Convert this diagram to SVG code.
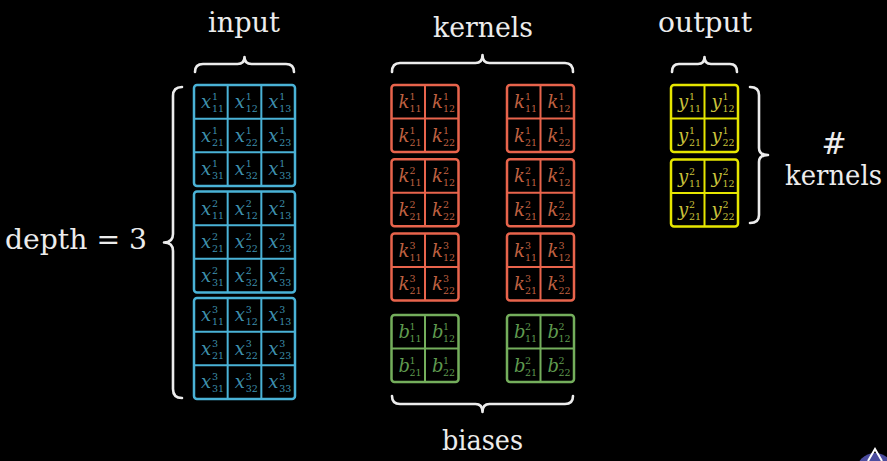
<svg xmlns="http://www.w3.org/2000/svg" width="887" height="461" viewBox="0 0 887 461">
<style>
text{font-family:"DejaVu Serif","Liberation Serif",serif}
.lbl{fill:#ececec;font-size:27px}
.cell text{font-size:9.5px}
.m{font-style:italic;font-size:18px}
.brace{fill:none;stroke:#ececec;stroke-width:2.6;stroke-linecap:round;stroke-linejoin:round}
.blue{color:#4AB2D6}.blue text{fill:#3E90AE}
.red{color:#E8644C}.red text{fill:#BF6040}
.green{color:#74AE5C}.green text{fill:#5F9A4F}
.yellow{color:#E6E600}.yellow text{fill:#C9C23A}
</style>
<defs>
<g id="g3"><rect x="0" y="0" width="101" height="101" rx="3" fill="none" stroke="currentColor" stroke-width="2.5"/><path d="M33.67 0V101M67.33 0V101M0 33.67H101M0 67.33H101" fill="none" stroke="currentColor" stroke-width="2"/></g>
<g id="g2"><rect x="0" y="0" width="67" height="67" rx="3" fill="none" stroke="currentColor" stroke-width="2.5"/><path d="M33.5 0V67M0 33.5H67" fill="none" stroke="currentColor" stroke-width="2"/></g>
</defs>
<rect width="887" height="461" fill="#000"/>

<g id="labels">
<text class="lbl" x="244" y="32" text-anchor="middle" textLength="72" lengthAdjust="spacingAndGlyphs">input</text>
<text class="lbl" x="483" y="37" text-anchor="middle" textLength="100" lengthAdjust="spacingAndGlyphs">kernels</text>
<text class="lbl" x="705" y="32" text-anchor="middle" textLength="94" lengthAdjust="spacingAndGlyphs">output</text>
<text class="lbl" x="482.5" y="450" text-anchor="middle" textLength="81" lengthAdjust="spacingAndGlyphs">biases</text>
<text class="lbl" x="5" y="249" textLength="142" lengthAdjust="spacingAndGlyphs">depth = 3</text>
<text class="lbl" x="834" y="154" text-anchor="middle" style="font-size:30px">#</text>
<text class="lbl" x="833.5" y="185" text-anchor="middle" textLength="97" lengthAdjust="spacingAndGlyphs">kernels</text>
</g>

<g id="connectors">
<path class="brace" d="M195 72Q195 64 203 64L237.5 64Q244.5 64 244.5 57Q244.5 64 251.5 64L286 64Q294 64 294 72"/>
<path class="brace" d="M392 72Q392 63 400 63L475.5 63Q482.5 63 482.5 55Q482.5 63 489.5 63L565 63Q573 63 573 72"/>
<path class="brace" d="M672 72Q672 64 679 64L698 64Q704.5 64 704.5 57Q704.5 64 711 64L730 64Q737 64 737 72"/>
<path class="brace" d="M392 396Q392 404 400 404L475.5 404Q482.5 404 482.5 412Q482.5 404 489.5 404L565 404Q573 404 573 396"/>
<path class="brace" d="M182 87Q173 87 173 96L173 234Q173 242.5 164 242.5Q173 242.5 173 251L173 389Q173 398 182 398"/>
<path class="brace" d="M750 87Q759 87 759 95L759 148Q759 155 768 155Q759 155 759 162L759 215Q759 223 750 223"/>
</g>

<g id="input-1" class="cell blue" transform="translate(194,85)">
<use href="#g3"/>
<text><tspan class="m" x="7" y="23">x</tspan><tspan x="18" y="15">1</tspan><tspan x="18" y="27">11</tspan></text>
<text><tspan class="m" x="40.7" y="23">x</tspan><tspan x="51.7" y="15">1</tspan><tspan x="51.7" y="27">12</tspan></text>
<text><tspan class="m" x="74.3" y="23">x</tspan><tspan x="85.3" y="15">1</tspan><tspan x="85.3" y="27">13</tspan></text>
<text><tspan class="m" x="7" y="56.7">x</tspan><tspan x="18" y="48.7">1</tspan><tspan x="18" y="60.7">21</tspan></text>
<text><tspan class="m" x="40.7" y="56.7">x</tspan><tspan x="51.7" y="48.7">1</tspan><tspan x="51.7" y="60.7">22</tspan></text>
<text><tspan class="m" x="74.3" y="56.7">x</tspan><tspan x="85.3" y="48.7">1</tspan><tspan x="85.3" y="60.7">23</tspan></text>
<text><tspan class="m" x="7" y="90.3">x</tspan><tspan x="18" y="82.3">1</tspan><tspan x="18" y="94.3">31</tspan></text>
<text><tspan class="m" x="40.7" y="90.3">x</tspan><tspan x="51.7" y="82.3">1</tspan><tspan x="51.7" y="94.3">32</tspan></text>
<text><tspan class="m" x="74.3" y="90.3">x</tspan><tspan x="85.3" y="82.3">1</tspan><tspan x="85.3" y="94.3">33</tspan></text>
</g>
<g id="input-2" class="cell blue" transform="translate(194,191.5)">
<use href="#g3"/>
<text><tspan class="m" x="7" y="23">x</tspan><tspan x="18" y="15">2</tspan><tspan x="18" y="27">11</tspan></text>
<text><tspan class="m" x="40.7" y="23">x</tspan><tspan x="51.7" y="15">2</tspan><tspan x="51.7" y="27">12</tspan></text>
<text><tspan class="m" x="74.3" y="23">x</tspan><tspan x="85.3" y="15">2</tspan><tspan x="85.3" y="27">13</tspan></text>
<text><tspan class="m" x="7" y="56.7">x</tspan><tspan x="18" y="48.7">2</tspan><tspan x="18" y="60.7">21</tspan></text>
<text><tspan class="m" x="40.7" y="56.7">x</tspan><tspan x="51.7" y="48.7">2</tspan><tspan x="51.7" y="60.7">22</tspan></text>
<text><tspan class="m" x="74.3" y="56.7">x</tspan><tspan x="85.3" y="48.7">2</tspan><tspan x="85.3" y="60.7">23</tspan></text>
<text><tspan class="m" x="7" y="90.3">x</tspan><tspan x="18" y="82.3">2</tspan><tspan x="18" y="94.3">31</tspan></text>
<text><tspan class="m" x="40.7" y="90.3">x</tspan><tspan x="51.7" y="82.3">2</tspan><tspan x="51.7" y="94.3">32</tspan></text>
<text><tspan class="m" x="74.3" y="90.3">x</tspan><tspan x="85.3" y="82.3">2</tspan><tspan x="85.3" y="94.3">33</tspan></text>
</g>
<g id="input-3" class="cell blue" transform="translate(194,298)">
<use href="#g3"/>
<text><tspan class="m" x="7" y="23">x</tspan><tspan x="18" y="15">3</tspan><tspan x="18" y="27">11</tspan></text>
<text><tspan class="m" x="40.7" y="23">x</tspan><tspan x="51.7" y="15">3</tspan><tspan x="51.7" y="27">12</tspan></text>
<text><tspan class="m" x="74.3" y="23">x</tspan><tspan x="85.3" y="15">3</tspan><tspan x="85.3" y="27">13</tspan></text>
<text><tspan class="m" x="7" y="56.7">x</tspan><tspan x="18" y="48.7">3</tspan><tspan x="18" y="60.7">21</tspan></text>
<text><tspan class="m" x="40.7" y="56.7">x</tspan><tspan x="51.7" y="48.7">3</tspan><tspan x="51.7" y="60.7">22</tspan></text>
<text><tspan class="m" x="74.3" y="56.7">x</tspan><tspan x="85.3" y="48.7">3</tspan><tspan x="85.3" y="60.7">23</tspan></text>
<text><tspan class="m" x="7" y="90.3">x</tspan><tspan x="18" y="82.3">3</tspan><tspan x="18" y="94.3">31</tspan></text>
<text><tspan class="m" x="40.7" y="90.3">x</tspan><tspan x="51.7" y="82.3">3</tspan><tspan x="51.7" y="94.3">32</tspan></text>
<text><tspan class="m" x="74.3" y="90.3">x</tspan><tspan x="85.3" y="82.3">3</tspan><tspan x="85.3" y="94.3">33</tspan></text>
</g>

<g id="kernel-1-1" class="cell red" transform="translate(391.5,85)">
<use href="#g2"/>
<text><tspan class="m" x="7" y="23">k</tspan><tspan x="18" y="15">1</tspan><tspan x="18" y="27">11</tspan></text>
<text><tspan class="m" x="40.5" y="23">k</tspan><tspan x="51.5" y="15">1</tspan><tspan x="51.5" y="27">12</tspan></text>
<text><tspan class="m" x="7" y="56.5">k</tspan><tspan x="18" y="48.5">1</tspan><tspan x="18" y="60.5">21</tspan></text>
<text><tspan class="m" x="40.5" y="56.5">k</tspan><tspan x="51.5" y="48.5">1</tspan><tspan x="51.5" y="60.5">22</tspan></text>
</g>
<g id="kernel-1-2" class="cell red" transform="translate(391.5,159.3)">
<use href="#g2"/>
<text><tspan class="m" x="7" y="23">k</tspan><tspan x="18" y="15">2</tspan><tspan x="18" y="27">11</tspan></text>
<text><tspan class="m" x="40.5" y="23">k</tspan><tspan x="51.5" y="15">2</tspan><tspan x="51.5" y="27">12</tspan></text>
<text><tspan class="m" x="7" y="56.5">k</tspan><tspan x="18" y="48.5">2</tspan><tspan x="18" y="60.5">21</tspan></text>
<text><tspan class="m" x="40.5" y="56.5">k</tspan><tspan x="51.5" y="48.5">2</tspan><tspan x="51.5" y="60.5">22</tspan></text>
</g>
<g id="kernel-1-3" class="cell red" transform="translate(391.5,233.6)">
<use href="#g2"/>
<text><tspan class="m" x="7" y="23">k</tspan><tspan x="18" y="15">3</tspan><tspan x="18" y="27">11</tspan></text>
<text><tspan class="m" x="40.5" y="23">k</tspan><tspan x="51.5" y="15">3</tspan><tspan x="51.5" y="27">12</tspan></text>
<text><tspan class="m" x="7" y="56.5">k</tspan><tspan x="18" y="48.5">3</tspan><tspan x="18" y="60.5">21</tspan></text>
<text><tspan class="m" x="40.5" y="56.5">k</tspan><tspan x="51.5" y="48.5">3</tspan><tspan x="51.5" y="60.5">22</tspan></text>
</g>
<g id="kernel-2-1" class="cell red" transform="translate(507,85)">
<use href="#g2"/>
<text><tspan class="m" x="7" y="23">k</tspan><tspan x="18" y="15">1</tspan><tspan x="18" y="27">11</tspan></text>
<text><tspan class="m" x="40.5" y="23">k</tspan><tspan x="51.5" y="15">1</tspan><tspan x="51.5" y="27">12</tspan></text>
<text><tspan class="m" x="7" y="56.5">k</tspan><tspan x="18" y="48.5">1</tspan><tspan x="18" y="60.5">21</tspan></text>
<text><tspan class="m" x="40.5" y="56.5">k</tspan><tspan x="51.5" y="48.5">1</tspan><tspan x="51.5" y="60.5">22</tspan></text>
</g>
<g id="kernel-2-2" class="cell red" transform="translate(507,159.3)">
<use href="#g2"/>
<text><tspan class="m" x="7" y="23">k</tspan><tspan x="18" y="15">2</tspan><tspan x="18" y="27">11</tspan></text>
<text><tspan class="m" x="40.5" y="23">k</tspan><tspan x="51.5" y="15">2</tspan><tspan x="51.5" y="27">12</tspan></text>
<text><tspan class="m" x="7" y="56.5">k</tspan><tspan x="18" y="48.5">2</tspan><tspan x="18" y="60.5">21</tspan></text>
<text><tspan class="m" x="40.5" y="56.5">k</tspan><tspan x="51.5" y="48.5">2</tspan><tspan x="51.5" y="60.5">22</tspan></text>
</g>
<g id="kernel-2-3" class="cell red" transform="translate(507,233.6)">
<use href="#g2"/>
<text><tspan class="m" x="7" y="23">k</tspan><tspan x="18" y="15">3</tspan><tspan x="18" y="27">11</tspan></text>
<text><tspan class="m" x="40.5" y="23">k</tspan><tspan x="51.5" y="15">3</tspan><tspan x="51.5" y="27">12</tspan></text>
<text><tspan class="m" x="7" y="56.5">k</tspan><tspan x="18" y="48.5">3</tspan><tspan x="18" y="60.5">21</tspan></text>
<text><tspan class="m" x="40.5" y="56.5">k</tspan><tspan x="51.5" y="48.5">3</tspan><tspan x="51.5" y="60.5">22</tspan></text>
</g>

<g id="bias-1" class="cell green" transform="translate(391.5,315)">
<use href="#g2"/>
<text><tspan class="m" x="7" y="23">b</tspan><tspan x="18" y="15">1</tspan><tspan x="18" y="27">11</tspan></text>
<text><tspan class="m" x="40.5" y="23">b</tspan><tspan x="51.5" y="15">1</tspan><tspan x="51.5" y="27">12</tspan></text>
<text><tspan class="m" x="7" y="56.5">b</tspan><tspan x="18" y="48.5">1</tspan><tspan x="18" y="60.5">21</tspan></text>
<text><tspan class="m" x="40.5" y="56.5">b</tspan><tspan x="51.5" y="48.5">1</tspan><tspan x="51.5" y="60.5">22</tspan></text>
</g>
<g id="bias-2" class="cell green" transform="translate(507,315)">
<use href="#g2"/>
<text><tspan class="m" x="7" y="23">b</tspan><tspan x="18" y="15">2</tspan><tspan x="18" y="27">11</tspan></text>
<text><tspan class="m" x="40.5" y="23">b</tspan><tspan x="51.5" y="15">2</tspan><tspan x="51.5" y="27">12</tspan></text>
<text><tspan class="m" x="7" y="56.5">b</tspan><tspan x="18" y="48.5">2</tspan><tspan x="18" y="60.5">21</tspan></text>
<text><tspan class="m" x="40.5" y="56.5">b</tspan><tspan x="51.5" y="48.5">2</tspan><tspan x="51.5" y="60.5">22</tspan></text>
</g>

<g id="output-1" class="cell yellow" transform="translate(671,85)">
<use href="#g2"/>
<text><tspan class="m" x="7" y="23">y</tspan><tspan x="18" y="15">1</tspan><tspan x="18" y="27">11</tspan></text>
<text><tspan class="m" x="40.5" y="23">y</tspan><tspan x="51.5" y="15">1</tspan><tspan x="51.5" y="27">12</tspan></text>
<text><tspan class="m" x="7" y="56.5">y</tspan><tspan x="18" y="48.5">1</tspan><tspan x="18" y="60.5">21</tspan></text>
<text><tspan class="m" x="40.5" y="56.5">y</tspan><tspan x="51.5" y="48.5">1</tspan><tspan x="51.5" y="60.5">22</tspan></text>
</g>
<g id="output-2" class="cell yellow" transform="translate(671,159.5)">
<use href="#g2"/>
<text><tspan class="m" x="7" y="23">y</tspan><tspan x="18" y="15">2</tspan><tspan x="18" y="27">11</tspan></text>
<text><tspan class="m" x="40.5" y="23">y</tspan><tspan x="51.5" y="15">2</tspan><tspan x="51.5" y="27">12</tspan></text>
<text><tspan class="m" x="7" y="56.5">y</tspan><tspan x="18" y="48.5">2</tspan><tspan x="18" y="60.5">21</tspan></text>
<text><tspan class="m" x="40.5" y="56.5">y</tspan><tspan x="51.5" y="48.5">2</tspan><tspan x="51.5" y="60.5">22</tspan></text>
</g>

<g id="corner-icon">
<circle cx="875" cy="472" r="19" fill="#4B4C9E"/>
<path d="M868 461L875 449L882 461" fill="none" stroke="#ffffff" stroke-width="2"/>
</g>
</svg>
